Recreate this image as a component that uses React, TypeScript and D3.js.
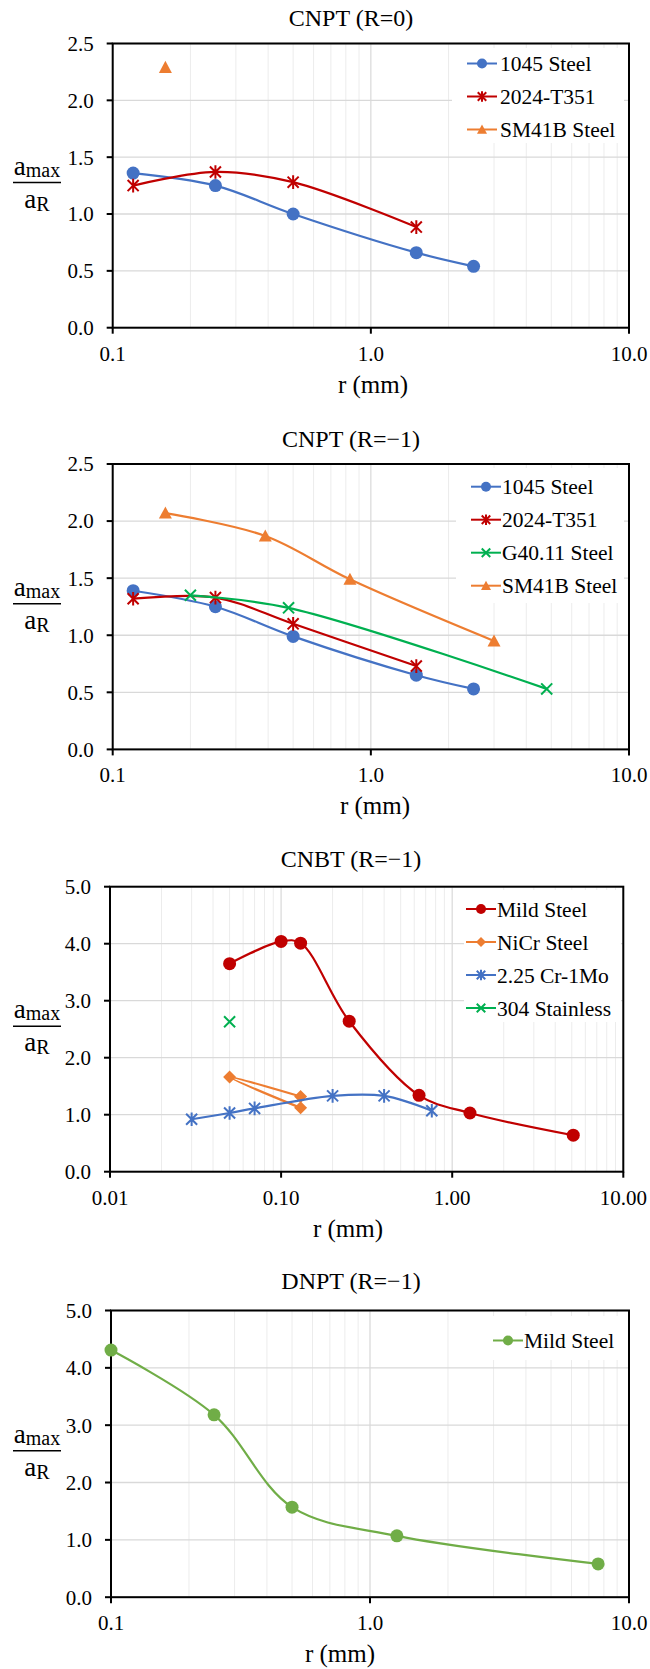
import * as d3 from 'd3';

const W = 650;
const H = 1669;

// CNPT (R=0)
const p1_1045_r = [0.12, 0.25, 0.5, 1.5, 2.5];
const p1_1045_a = [1.36, 1.25, 1.0, 0.66, 0.54];
const p1_2024_r = [0.12, 0.25, 0.5, 1.5];
const p1_2024_a = [1.25, 1.37, 1.28, 0.885];
const p1_sm41_r = [0.16];
const p1_sm41_a = [2.29];

// CNPT (R=-1)
const p2_1045_r = [0.12, 0.25, 0.5, 1.5, 2.5];
const p2_1045_a = [1.39, 1.25, 0.99, 0.65, 0.53];
const p2_2024_r = [0.12, 0.25, 0.5, 1.5];
const p2_2024_a = [1.32, 1.33, 1.1, 0.73];
const p2_g40_r = [0.2, 0.48, 4.8];
const p2_g40_a = [1.35, 1.24, 0.53];
const p2_sm41_r = [0.16, 0.39, 0.83, 3.0];
const p2_sm41_a = [2.07, 1.87, 1.49, 0.95];

// CNBT (R=-1)
const p3_mild_r = [0.05, 0.1, 0.13, 0.25, 0.64, 1.27, 5.1];
const p3_mild_a = [3.65, 4.04, 4.01, 2.64, 1.34, 1.03, 0.64];
const p3_nicr_r = [0.13, 0.05, 0.13];
const p3_nicr_a = [1.12, 1.66, 1.32];
const p3_cr_r = [0.03, 0.05, 0.07, 0.2, 0.4, 0.76];
const p3_cr_a = [0.92, 1.03, 1.11, 1.33, 1.33, 1.07];
const p3_304_r = [0.05];
const p3_304_a = [2.63];

// DNPT (R=-1)
const p4_mild_r = [0.1, 0.25, 0.5, 1.27, 7.6];
const p4_mild_a = [4.31, 3.18, 1.57, 1.07, 0.58];

const BLUE = '#4472C4';
const RED = '#C00000';
const ORANGE = '#ED7D31';
const GREEN = '#00B050';
const LGREEN = '#70AD47';

const FONT = '"Liberation Serif", "Times New Roman", serif';

type Series = { name: string; r: number[]; a: number[]; color: string; marker: string };

const panels = [
  {
    title: 'CNPT (R=0)', xDomain: [0.1, 10], xFmt: '.1f', yMax: 2.5, yStep: 0.5,
    left: 112.7, right: 629, top: 43.5, bottom: 327.7, titleY: 26, xTitleX: 373,
    legend: { x: 452, y: 48, w: 172, h: 95, lineX: 467, textX: 500, rowY: 20 },
    series: [
      { name: '1045 Steel', r: p1_1045_r, a: p1_1045_a, color: BLUE, marker: 'circle' },
      { name: '2024-T351', r: p1_2024_r, a: p1_2024_a, color: RED, marker: 'star' },
      { name: 'SM41B Steel', r: p1_sm41_r, a: p1_sm41_a, color: ORANGE, marker: 'triangle' },
    ] as Series[],
  },
  {
    title: 'CNPT (R=\u22121)', xDomain: [0.1, 10], xFmt: '.1f', yMax: 2.5, yStep: 0.5,
    left: 112.7, right: 629, top: 464, bottom: 749.4, titleY: 447, xTitleX: 375,
    legend: { x: 456, y: 468, w: 168, h: 135, lineX: 471, textX: 502, rowY: 22.7 },
    series: [
      { name: '1045 Steel', r: p2_1045_r, a: p2_1045_a, color: BLUE, marker: 'circle' },
      { name: '2024-T351', r: p2_2024_r, a: p2_2024_a, color: RED, marker: 'star' },
      { name: 'G40.11 Steel', r: p2_g40_r, a: p2_g40_a, color: GREEN, marker: 'x' },
      { name: 'SM41B Steel', r: p2_sm41_r, a: p2_sm41_a, color: ORANGE, marker: 'triangle' },
    ] as Series[],
  },
  {
    title: 'CNBT (R=\u22121)', xDomain: [0.01, 10], xFmt: '.2f', yMax: 5, yStep: 1,
    left: 110, right: 623.3, top: 886.7, bottom: 1171.7, titleY: 867, xTitleX: 348,
    legend: { x: 464, y: 890, w: 157, h: 132, lineX: 466, textX: 497, rowY: 22.3 },
    series: [
      { name: 'Mild Steel', r: p3_mild_r, a: p3_mild_a, color: RED, marker: 'circle' },
      { name: 'NiCr Steel', r: p3_nicr_r, a: p3_nicr_a, color: ORANGE, marker: 'diamond' },
      { name: '2.25 Cr-1Mo', r: p3_cr_r, a: p3_cr_a, color: BLUE, marker: 'star' },
      { name: '304 Stainless', r: p3_304_r, a: p3_304_a, color: GREEN, marker: 'x' },
    ] as Series[],
  },
  {
    title: 'DNPT (R=\u22121)', xDomain: [0.1, 10], xFmt: '.1f', yMax: 5, yStep: 1,
    left: 111, right: 629, top: 1310.5, bottom: 1597.2, titleY: 1289, xTitleX: 340,
    legend: { x: 478, y: 1316, w: 146, h: 44, lineX: 493, textX: 524, rowY: 30 },
    series: [
      { name: 'Mild Steel', r: p4_mild_r, a: p4_mild_a, color: LGREEN, marker: 'circle' },
    ] as Series[],
  },
];

function Marker({ type, color, x, y, s }: { type: string; color: string; x: number; y: number; s: number }) {
  if (type === 'circle') return <circle cx={x} cy={y} r={s} fill={color} />;
  if (type === 'triangle') {
    return <path d={`M${x},${y - s}L${x + s},${y + s * 0.85}L${x - s},${y + s * 0.85}Z`} fill={color} />;
  }
  if (type === 'diamond') {
    return <path d={`M${x},${y - s}L${x + s},${y}L${x},${y + s}L${x - s},${y}Z`} fill={color} />;
  }
  const k = s * 0.85;
  let d = `M${x - k},${y - k}L${x + k},${y + k}M${x - k},${y + k}L${x + k},${y - k}`;
  if (type === 'star') d += `M${x},${y - s * 1.05}L${x},${y + s * 1.05}`;
  return <path d={d} stroke={color} strokeWidth={2} fill="none" />;
}

function Panel({ p }: { p: (typeof panels)[number] }) {
  const x = d3.scaleLog().domain(p.xDomain).range([p.left, p.right]);
  const y = d3.scaleLinear().domain([0, p.yMax]).range([p.bottom, p.top]);
  const minor = x.ticks();
  const decades = minor.filter((v) => Math.abs(Math.log10(v) - Math.round(Math.log10(v))) < 1e-9);
  const yTicks = d3.range(0, p.yMax + 1e-9, p.yStep);
  const fx = d3.format(p.xFmt);
  const fy = d3.format('.1f');
  const line = d3
    .line<[number, number]>()
    .x((d) => x(d[0]))
    .y((d) => y(d[1]))
    .curve(d3.curveCatmullRom.alpha(0.5));
  const cy = (p.top + p.bottom) / 2;
  const lg = p.legend;

  return (
    <g>
      <text x={351} y={p.titleY} textAnchor="middle" fontSize={24} fill="#000">
        {p.title}
      </text>
      {/* gridlines */}
      {minor.map((v, i) => (
        <line key={'m' + i} x1={x(v)} x2={x(v)} y1={p.top} y2={p.bottom} stroke="#ececec" strokeWidth={1} />
      ))}
      {decades.map((v, i) => (
        <line key={'d' + i} x1={x(v)} x2={x(v)} y1={p.top} y2={p.bottom} stroke="#d9d9d9" strokeWidth={1} />
      ))}
      {yTicks.map((v, i) => (
        <line key={'h' + i} x1={p.left - 6} x2={p.right} y1={y(v)} y2={y(v)} stroke="#d9d9d9" strokeWidth={1.3} />
      ))}
      {/* legend */}
      <rect x={lg.x} y={lg.y} width={lg.w} height={lg.h} fill="#fff" />
      {p.series.map((s, i) => {
        const ry = p.top + lg.rowY + i * 33;
        return (
          <g key={'l' + i}>
            <line x1={lg.lineX} x2={lg.lineX + 30} y1={ry} y2={ry} stroke={s.color} strokeWidth={2} />
            <Marker type={s.marker} color={s.color} x={lg.lineX + 15} y={ry} s={5} />
            <text x={lg.textX} y={ry} dy="0.35em" fontSize={21.5} fill="#000">
              {s.name}
            </text>
          </g>
        );
      })}
      {/* frame and ticks */}
      <rect x={p.left} y={p.top} width={p.right - p.left} height={p.bottom - p.top} fill="none" stroke="#000" strokeWidth={2} />
      {yTicks.map((v, i) => (
        <g key={'yt' + i}>
          <line x1={p.left - 6} x2={p.left} y1={y(v)} y2={y(v)} stroke="#000" strokeWidth={2} />
          <text x={p.left - 19} y={y(v)} dy="0.35em" textAnchor="end" fontSize={21} fill="#000">
            {fy(v)}
          </text>
        </g>
      ))}
      {decades.map((v, i) => (
        <g key={'xt' + i}>
          <line x1={x(v)} x2={x(v)} y1={p.bottom} y2={p.bottom + 6} stroke="#000" strokeWidth={2} />
          <text x={x(v)} y={p.bottom + 33} textAnchor="middle" fontSize={21} fill="#000">
            {fx(v)}
          </text>
        </g>
      ))}
      <text x={p.xTitleX} y={p.bottom + 65} textAnchor="middle" fontSize={25} fill="#000">
        r (mm)
      </text>
      {/* y label: a_max / a_R */}
      <text x={37} y={cy - 11} textAnchor="middle" fill="#000">
        <tspan fontSize={27}>a</tspan>
        <tspan fontSize={20} dy={2}>max</tspan>
      </text>
      <line x1={13} x2={61} y1={cy - 3} y2={cy - 3} stroke="#000" strokeWidth={1.5} />
      <text x={37} y={cy + 22} textAnchor="middle" fill="#000">
        <tspan fontSize={27}>a</tspan>
        <tspan fontSize={20} dy={3}>R</tspan>
      </text>
      {/* series */}
      {p.series.map((s, i) => {
        const pts = s.r.map((r, j) => [r, s.a[j]] as [number, number]);
        return (
          <g key={'s' + i}>
            {pts.length > 1 && <path d={line(pts) ?? ''} fill="none" stroke={s.color} strokeWidth={2.2} />}
            {pts.map((d, j) => (
              <Marker key={j} type={s.marker} color={s.color} x={x(d[0])} y={y(d[1])} s={6.5} />
            ))}
          </g>
        );
      })}
    </g>
  );
}

export default function App() {
  return (
    <svg
      width={W}
      height={H}
      viewBox={`0 0 ${W} ${H}`}
      style={{ position: 'absolute', left: 0, top: 0, background: '#fff', fontFamily: FONT }}
    >
      <rect width={W} height={H} fill="#fff" />
      {panels.map((p, i) => (
        <Panel key={i} p={p} />
      ))}
    </svg>
  );
}
